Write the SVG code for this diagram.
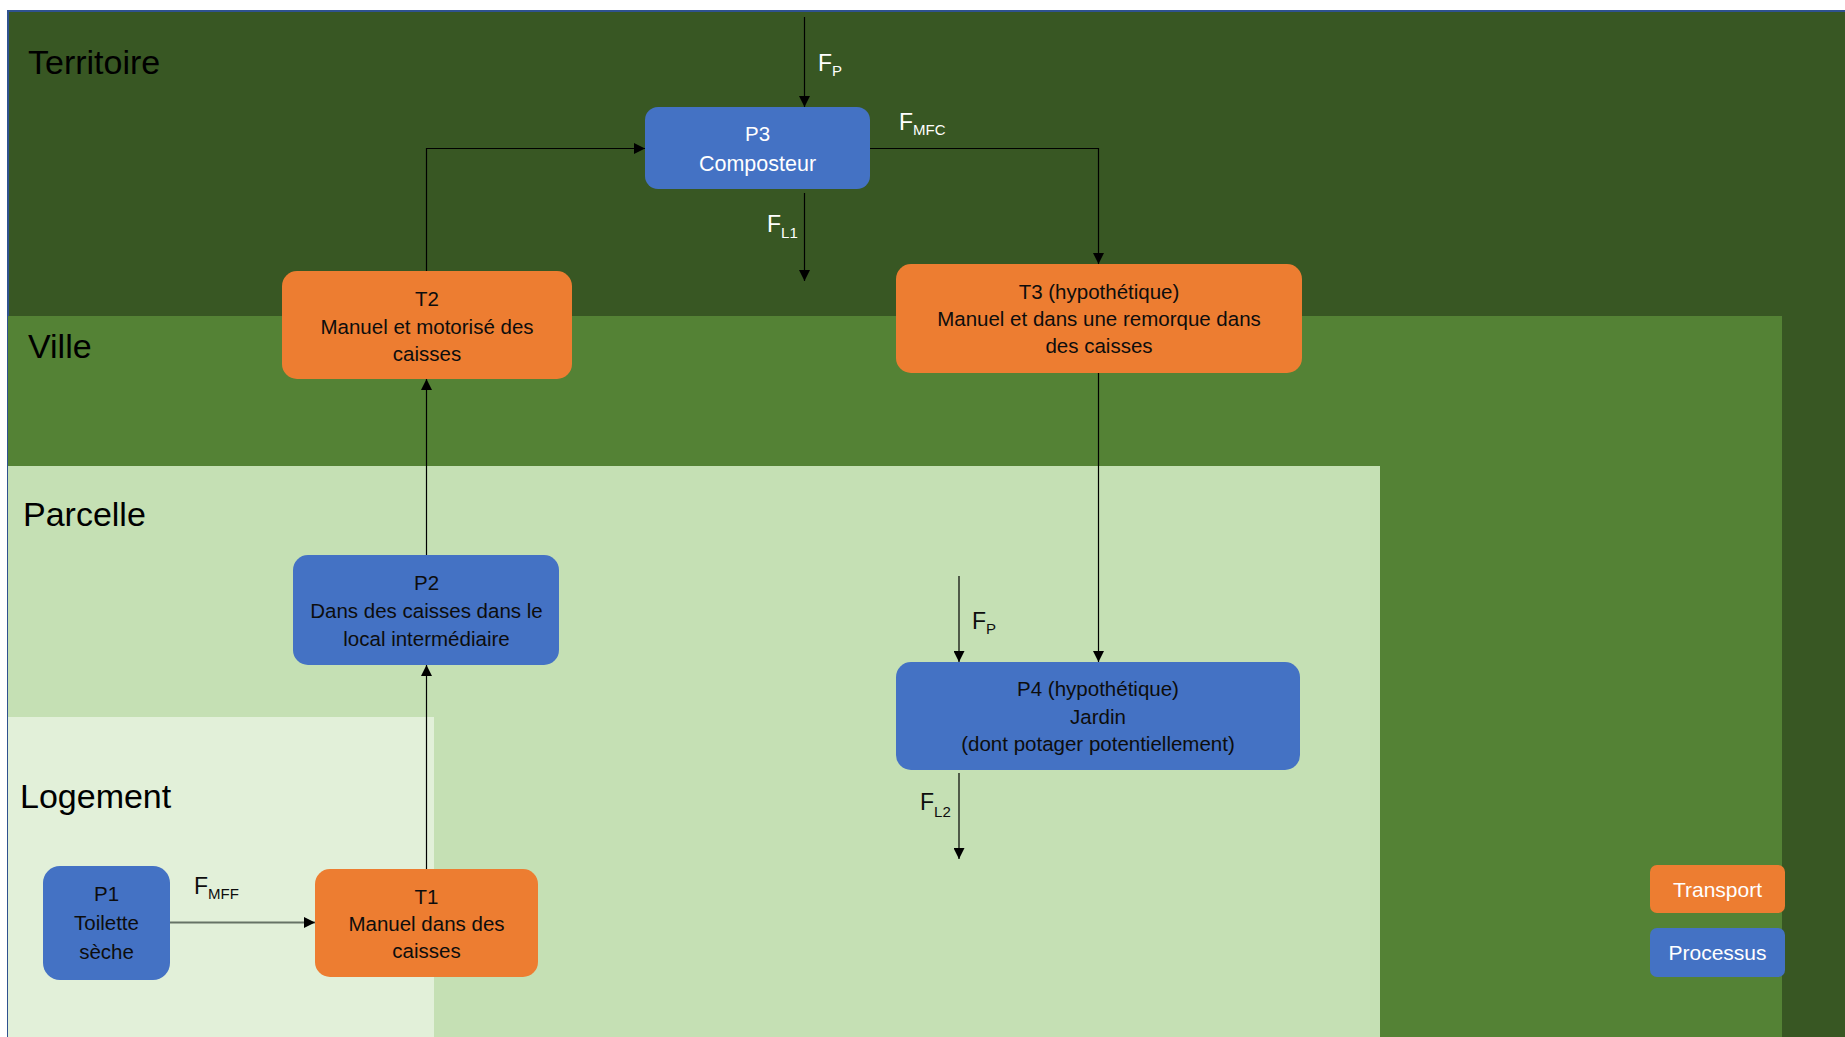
<svg xmlns="http://www.w3.org/2000/svg" width="1845" height="1037" viewBox="0 0 1845 1037">
<defs>
<style>
.zone-label{font-family:"Liberation Sans",Arial,sans-serif;font-size:34px;fill:#000}
.box-text{font-family:"Liberation Sans",Arial,sans-serif;font-size:20.5px;text-anchor:middle}
.dark{fill:#0d0d0d}
.light{fill:#ffffff}
.flow{font-family:"Liberation Sans",Arial,sans-serif;font-size:23px}
.sub{font-size:15px}
.conn{fill:none;stroke:#000;stroke-width:1.2;marker-end:url(#arrow)}
.conn-grey{fill:none;stroke:#667366;stroke-width:2;marker-end:url(#arrow)}
.transport{fill:#ED7D31}
.processus{fill:#4472C4}
</style>
<marker id="arrow" markerUnits="userSpaceOnUse" markerWidth="11" markerHeight="11" viewBox="0 0 10 10" refX="10" refY="5" orient="auto">
<path d="M0,0 L10,5 L0,10 z" fill="#000"/>
</marker>
</defs>

<g id="zones">
<rect id="territoire" x="8" y="11" width="1850" height="1040" fill="#385723" stroke="#2F528F" stroke-width="2"/>
<rect id="ville" x="8" y="316" width="1774" height="730" fill="#548235"/>
<rect id="parcelle" x="8" y="466" width="1372" height="580" fill="#C5E0B4"/>
<rect id="logement" x="8" y="717" width="426" height="330" fill="#E2F0D9"/>
<text class="zone-label" x="28" y="74">Territoire</text>
<text class="zone-label" x="28" y="358">Ville</text>
<text class="zone-label" x="23" y="526">Parcelle</text>
<text class="zone-label" x="20" y="808">Logement</text>
</g>

<g id="connectors">
<path class="conn" d="M804.5,17 V107"/>
<path class="conn" d="M426.5,271 V148.5 H645"/>
<path class="conn" d="M804.5,193 V281"/>
<path class="conn" d="M870,148.5 H1098.5 V264"/>
<path class="conn" d="M1098.5,373 V662"/>
<path class="conn" d="M959,576 V662"/>
<path class="conn" d="M959,773 V859"/>
<path class="conn" d="M426.5,555 V379"/>
<path class="conn" d="M426.5,869 V665"/>
<path class="conn-grey" d="M170,922.5 H315"/>
</g>

<g id="flow-labels">
<text class="flow light" x="818" y="71">F<tspan class="sub" dy="5">P</tspan></text>
<text class="flow light" x="899" y="130">F<tspan class="sub" dy="5">MFC</tspan></text>
<text class="flow light" x="767" y="232">F<tspan class="sub" dy="6">L1</tspan></text>
<text class="flow dark" x="972" y="629">F<tspan class="sub" dy="5">P</tspan></text>
<text class="flow dark" x="920" y="810">F<tspan class="sub" dy="7">L2</tspan></text>
<text class="flow dark" x="194" y="894">F<tspan class="sub" dy="5">MFF</tspan></text>
</g>

<g id="P3">
<rect class="processus" x="645" y="107" width="225" height="82" rx="13"/>
<text class="box-text light" x="757.5" y="141">P3</text>
<text class="box-text light" x="757.5" y="171" style="font-size:21.5px">Composteur</text>
</g>

<g id="T2">
<rect class="transport" x="282" y="271" width="290" height="108" rx="15"/>
<text class="box-text dark" x="427" y="306">T2</text>
<text class="box-text dark" x="427" y="333.5">Manuel et motorisé des</text>
<text class="box-text dark" x="427" y="361">caisses</text>
</g>

<g id="T3">
<rect class="transport" x="896" y="264" width="406" height="109" rx="15"/>
<text class="box-text dark" x="1099" y="299">T3 (hypothétique)</text>
<text class="box-text dark" x="1099" y="326">Manuel et dans une remorque dans</text>
<text class="box-text dark" x="1099" y="353">des caisses</text>
</g>

<g id="P2">
<rect class="processus" x="293" y="555" width="266" height="110" rx="15"/>
<text class="box-text dark" x="426.5" y="590">P2</text>
<text class="box-text dark" x="426.5" y="618">Dans des caisses dans le</text>
<text class="box-text dark" x="426.5" y="645.5">local intermédiaire</text>
</g>

<g id="P4">
<rect class="processus" x="896" y="662" width="404" height="108" rx="15"/>
<text class="box-text dark" x="1098" y="696">P4 (hypothétique)</text>
<text class="box-text dark" x="1098" y="723.5">Jardin</text>
<text class="box-text dark" x="1098" y="751">(dont potager potentiellement)</text>
</g>

<g id="P1">
<rect class="processus" x="43" y="866" width="127" height="114" rx="17"/>
<text class="box-text dark" x="106.5" y="901">P1</text>
<text class="box-text dark" x="106.5" y="930">Toilette</text>
<text class="box-text dark" x="106.5" y="959">sèche</text>
</g>

<g id="T1">
<rect class="transport" x="315" y="869" width="223" height="108" rx="15"/>
<text class="box-text dark" x="426.5" y="903.5">T1</text>
<text class="box-text dark" x="426.5" y="931">Manuel dans des</text>
<text class="box-text dark" x="426.5" y="958">caisses</text>
</g>

<g id="legend-transport">
<rect class="transport" x="1650" y="865" width="135" height="48" rx="7"/>
<text class="box-text light" x="1717.5" y="897" style="font-size:21px">Transport</text>
</g>

<g id="legend-processus">
<rect class="processus" x="1650" y="928" width="135" height="49" rx="7"/>
<text class="box-text light" x="1717.5" y="960" style="font-size:21px">Processus</text>
</g>
</svg>
